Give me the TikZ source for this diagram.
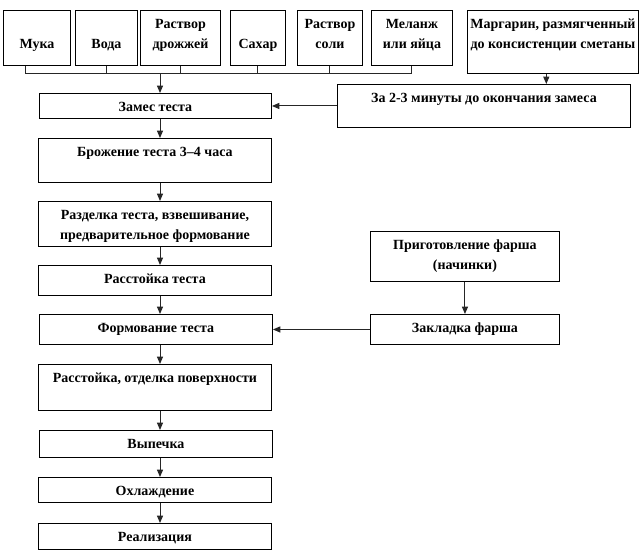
\documentclass[tikz,border=0pt]{standalone}
\usepackage{fontspec}
\setmainfont{Liberation Serif}
\usetikzlibrary{arrows.meta}

\begin{document}
\begin{tikzpicture}[x=0.75pt,y=-0.75pt,
		box/.style 2 args={draw,line width=0.7pt,anchor=north west,inner sep=0pt,minimum width=#1*0.75pt,minimum height=#2*0.75pt},
		txt/.style={anchor=north,yshift=-6.5pt,inner sep=0pt,align=center,font=\fontsize{10.5}{15}\selectfont\bfseries},
		lbl/.style={label={[txt]north:#1}},
		low/.style={label={[txt,yshift=-15pt]north:#1}},
		line/.style={draw=black!85,line width=0.75pt},
		arr/.style={line,-{Triangle[length=5.5pt,width=4.5pt]}}]
		\useasboundingbox (0,0) rectangle (642,558);

		\node[box={67}{55},low=Мука] (muka) at (3,10) {};
		\node[box={62}{55},low=Вода] (voda) at (75,10) {};
		\node[box={80}{55},lbl={Раствор\\дрожжей}] (drozh) at (140,10) {};
		\node[box={55}{55},low=Сахар] (sahar) at (230,10) {};
		\node[box={65}{55},lbl={Раствор\\соли}] (sol) at (297,10) {};
		\node[box={81}{55},lbl={Меланж\\или яйца}] (melanzh) at (371,10) {};
		\node[box={171}{63},lbl={Маргарин, размягченный\\до консистенции сметаны}] (margarin) at (467,10) {};

		\node[box={232}{25},lbl={Замес теста}] (zames) at (39,93) {};
		\node[box={293}{43},lbl={За 2-3 минуты до окончания замеса}] (za) at (337,84) {};
		\node[box={233}{44},lbl={Брожение теста 3–4 часа}] (brozh) at (38,138) {};
		\node[box={233}{45},lbl={Разделка теста, взвешивание,\\предварительное формование}] (razdelka) at (38,201) {};
		\node[box={233}{30},lbl={Расстойка теста}] (rasstojka) at (38,265) {};
		\node[box={233}{30},lbl={Формование теста}] (formovanie) at (39,314) {};
		\node[box={233}{46},lbl={Расстойка, отделка поверхности}] (otdelka) at (38,364) {};
		\node[box={233}{27},lbl={Выпечка}] (vypechka) at (39,430) {};
		\node[box={233}{25},lbl={Охлаждение}] (ohlazhdenie) at (38,477) {};
		\node[box={233}{26},lbl={Реализация}] (realizacija) at (38,523) {};
		\node[box={189}{50},lbl={Приготовление фарша\\(начинки)}] (farsh) at (370,231) {};
		\node[box={189}{30},lbl={Закладка фарша}] (zakladka) at (370,314) {};

		\coordinate (bus) at (25,73);
		\coordinate (spine) at (160,0);
		\coordinate (mg) at ([xshift=-5pt]margarin.south);

		\draw[line] (muka.south -| bus) |- (melanzh.south |- bus) -- (melanzh.south);
		\foreach \n in {voda,drozh,sahar,sol}
			\draw[line] (\n.south) -- (\n.south |- bus);
		\draw[arr] (spine |- bus) -- (zames.north -| spine);
		\draw[arr] (mg) -- (mg |- za.north);
		\draw[arr] (za) -- (zames);
		\foreach \a/\b in {zames/brozh,brozh/razdelka,razdelka/rasstojka,rasstojka/formovanie,formovanie/otdelka,otdelka/vypechka,vypechka/ohlazhdenie,ohlazhdenie/realizacija}
			\draw[arr] (\a.south -| spine) -- (\b.north -| spine);
		\draw[arr] (farsh) -- (zakladka);
		\draw[arr] (zakladka) -- (formovanie);
	\end{tikzpicture}
\end{document}
